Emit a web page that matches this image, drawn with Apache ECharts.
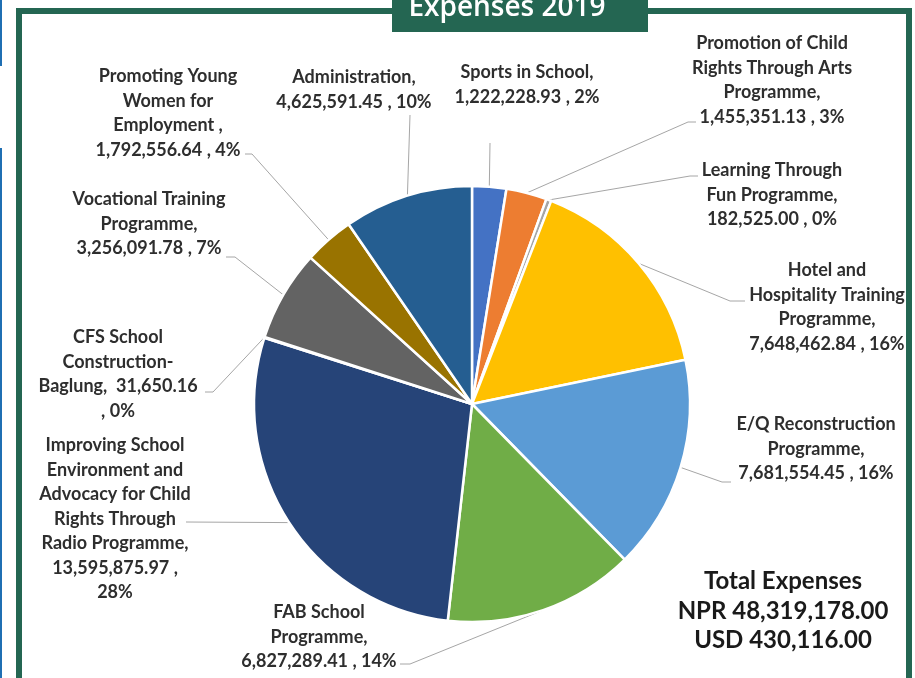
<!DOCTYPE html>
<html><head><meta charset="utf-8">
<script src="https://cdn.jsdelivr.net/npm/echarts@6/dist/echarts.min.js"></script>
<style>html,body{margin:0;padding:0;background:#fff}#c{width:915px;height:678px}</style>
</head><body><div id="c"></div>
<script>
// ---- data ----
const categories = [
  'Sports in School',
  'Promotion of Child Rights Through Arts Programme',
  'Learning Through Fun Programme',
  'Hotel and Hospitality Training Programme',
  'E/Q Reconstruction Programme',
  'FAB School Programme',
  'Improving School Environment and Advocacy for Child Rights Through Radio Programme',
  'CFS School Construction-Baglung',
  'Vocational Training Programme',
  'Promoting Young Women for Employment',
  'Administration'
];
const values = [1222228.93, 1455351.13, 182525.00, 7648462.84, 7681554.45, 6827289.41, 13595875.97, 31650.16, 3256091.78, 1792556.64, 4625591.45];
const percents = [2, 3, 0, 16, 16, 14, 28, 0, 7, 4, 10];
const labelTemplates = [
  'Sports in School,\n{v} , {p}%',
  'Promotion of Child\nRights Through Arts\nProgramme,\n{v} , {p}%',
  'Learning Through\nFun Programme,\n{v} , {p}%',
  'Hotel and\nHospitality Training\nProgramme,\n{v} , {p}%',
  'E/Q Reconstruction\nProgramme,\n{v} , {p}%',
  'FAB School\nProgramme,\n{v} , {p}%',
  'Improving School\nEnvironment and\nAdvocacy for Child\nRights Through\nRadio Programme,\n{v} ,\n{p}%',
  'CFS School\nConstruction-\nBaglung,  {v}\n, {p}%',
  'Vocational Training\nProgramme,\n{v} , {p}%',
  'Promoting Young\nWomen for\nEmployment ,\n{v} , {p}%',
  'Administration,\n{v} , {p}%'
];
const titleText = 'Expenses 2019';
const totalTitle = 'Total Expenses';
const usdTotal = 430116;

// ---- styles / layout ----
const colors = ['#4472C4','#ED7D31','#A5A5A5','#FFC000','#5B9BD5','#70AD47','#264478','#9E480E','#636363','#997300','#255E91'];
const labelPos = [[527,60],[772,31],[772,158],[827,258],[816,412],[319,600],[115,433],[118,325],[149,187],[168,64],[354,65]];
const leaderPts = [
  [[490,143]],
  [[688,122],[696,122]],
  [[690,176],[698,176]],
  [[730,301],[745,301]],
  [[722,482],[731,482]],
  [[410,664],[400,664]],
  [[186,522]],
  [[213,392],[205,392]],
  [[235,257],[226,257]],
  [[252,154],[245,154]],
  [[410,115]]
];
const GREEN = '#246652';

function fmt(v, d) {
  return v.toLocaleString('en-US', {minimumFractionDigits: d, maximumFractionDigits: d});
}
const sum = values.reduce((a, b) => a + b, 0);

const chart = echarts.init(document.getElementById('c'), null, {renderer: 'canvas'});
chart.setOption({
  animation: false,
  backgroundColor: '#ffffff',
  graphic: [
    {type: 'rect', shape: {x: 0, y: 0, width: 2, height: 66}, style: {fill: '#1f6fb3'}},
    {type: 'rect', shape: {x: 0, y: 148, width: 2, height: 540}, style: {fill: '#1f6fb3'}},
    {type: 'rect', shape: {x: 19, y: 11, width: 890, height: 720}, style: {fill: null, stroke: GREEN, lineWidth: 6}},
    {type: 'rect', shape: {x: 392, y: -10, width: 256, height: 42}, style: {fill: GREEN}},
    {type: 'text', style: {text: titleText, x: 507, y: 8, textAlign: 'center', textVerticalAlign: 'middle',
      font: '600 28px "Open Sans"', fill: '#ffffff'}},
    {type: 'text', style: {
      text: totalTitle + '\nNPR ' + fmt(Math.round(sum), 2) + '\nUSD ' + fmt(usdTotal, 2),
      x: 783, y: 567, textAlign: 'center', textVerticalAlign: 'top',
      font: 'bold 24px Lato', lineHeight: 29.5, fill: '#1a1a1a'}}
  ],
  series: [{
    type: 'pie',
    center: [472, 404],
    radius: 218,
    startAngle: 90,
    clockwise: true,
    avoidLabelOverlap: false,
    emphasis: {disabled: true},
    itemStyle: {borderColor: '#ffffff', borderWidth: 2.5},
    label: {
      show: true,
      position: 'outside',
      fontFamily: 'Lato',
      fontWeight: 'bold',
      fontSize: 18,
      lineHeight: 24.5,
      color: '#2e2e2e',
      width: 280,
      overflow: 'none',
      formatter: function (p) {
        return labelTemplates[p.dataIndex]
          .replace('{v}', fmt(values[p.dataIndex], 2))
          .replace('{p}', percents[p.dataIndex]);
      }
    },
    labelLine: {show: true, length: 10, length2: 10, lineStyle: {color: '#a6a6a6', width: 1}},
    labelLayout: function (p) {
      const i = p.dataIndex;
      const out = {x: labelPos[i][0], y: labelPos[i][1], align: 'center', verticalAlign: 'top'};
      if (p.labelLinePoints && p.labelLinePoints[0]) {
        out.labelLinePoints = [p.labelLinePoints[0].slice()].concat(leaderPts[i].map(q => q.slice()));
      }
      return out;
    },
    data: categories.map((n, i) => ({name: n, value: values[i], itemStyle: {color: colors[i]}}))
  }]
});
</script>
</body></html>
